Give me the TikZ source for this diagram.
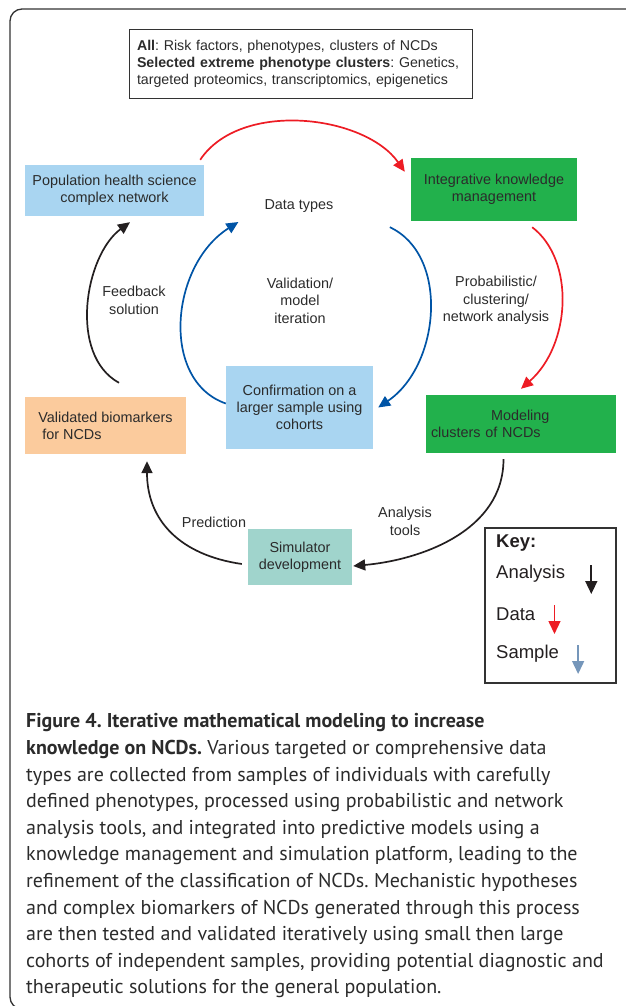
\documentclass[tikz,border=0pt]{standalone}
\usepackage{fontspec}
\setmainfont{Liberation Sans}
\newfontfamily\capfont{PT Sans}
\usetikzlibrary{arrows.meta}
\frenchspacing

\definecolor{ncdred}{HTML}{ED1C24}
\definecolor{ncdblue}{HTML}{0054A6}
\definecolor{ncdblack}{HTML}{231F20}
\definecolor{ncdgreen}{HTML}{22B14C}
\definecolor{ncdsky}{HTML}{A9D5F1}
\definecolor{ncdpeach}{HTML}{FBCB9D}
\definecolor{ncdteal}{HTML}{A0D4CC}
\definecolor{ncdsteel}{HTML}{7596BA}
\definecolor{ncdtext}{HTML}{2B2B2B}
\definecolor{ncdframe}{HTML}{333333}

\tikzset{
  stagebox/.style={inner sep=0pt, text=ncdtext, align=center,
    font=\fontsize{14.4}{16.8}\selectfont},
  lbl/.style={inner sep=0pt, text=ncdtext, align=center,
    font=\fontsize{14.4}{17.5}\selectfont},
  keytext/.style={inner sep=0pt, text=ncdblack, anchor=west,
    font=\fontsize{18.5}{20}\selectfont},
  arc/.style={line width=1.7pt, -{Triangle[length=12pt,width=11pt]}},
  keyarrow/.style={line width=1.6pt, -{Triangle[length=13pt,width=12pt]}},
}

\begin{document}
\begin{tikzpicture}[x=1pt,y=-1pt]
\useasboundingbox (0,0) rectangle (626,1006);
\clip (0,0) rectangle (626,1006);

%Frame
\draw[line width=1.3pt, draw=ncdframe, rounded corners=12pt] (10,9) rectangle (660,1009);

% Text Node
\node[draw=ncdframe, line width=0.9pt, inner xsep=8pt, text width=327pt, minimum height=69pt,
  align=left, text=ncdtext, font=\fontsize{14.2}{17}\selectfont] (allbox) at (300.5,63.5)
  {\textbf{All}: Risk factors, phenotypes, clusters of NCDs\\
   \textbf{Selected extreme phenotype clusters}: Genetics,\\
   targeted proteomics, transcriptomics, epigenetics};

%Stage boxes
\node[stagebox, fill=ncdsky, minimum width=179pt, minimum height=51pt] (pop) at (114.5,190.5)
  {Population health science\\complex network};
\node[stagebox, fill=ncdgreen, minimum width=166pt, minimum height=63pt] (ikm) at (494,189.5)
  {Integrative knowledge\\management};
\node[stagebox, fill=ncdsky, minimum width=147pt, minimum height=83pt] (conf) at (299.5,407.5)
  {Confirmation on a\\larger sample using\\cohorts};
\node[stagebox, fill=ncdpeach, minimum width=161pt, minimum height=57pt, align=left] (valid) at (105.5,425.5)
  {Validated biomarkers\\\hspace*{4pt}for NCDs};
\node[stagebox, fill=ncdgreen, minimum width=190pt, minimum height=58pt, inner xsep=5pt,
  text width=180pt, align=left] (model) at (521,424)
  {\hspace*{60pt}Modeling\\clusters of NCDs};
\node[stagebox, fill=ncdteal, minimum width=104pt, minimum height=56pt] (sim) at (300,557)
  {Simulator\\development};

%Labels
\node[lbl] (datatypes) at (299,206) {Data types};
\node[lbl] (validation) at (300,300.5) {Validation/\\model\\iteration};
\node[lbl] (prob) at (496,300.5) {Probabilistic/\\clustering/\\network analysis};
\node[lbl] (feedback) at (134,300.5) {Feedback\\solution};
\node[lbl] (prediction) at (214,522) {Prediction};
\node[lbl] (tools) at (405,521.5) {Analysis\\tools};

%Curved arrows
\draw[arc, ncdred] ([xshift=-4pt,yshift=5pt]pop.north east)
  .. controls +(40,-60) and +(-40,-57) .. ([xshift=-6pt,yshift=-14pt]ikm.north west);
\draw[arc, ncdred] ([xshift=-45pt,yshift=-6pt]ikm.south east)
  .. controls +(43,33) and +(50,-44) .. ([yshift=6pt]model.north);
\draw[arc, ncdblue] ([xshift=-21pt,yshift=-6pt]ikm.south west)
  .. controls +(60,28) and +(62,-42) .. ([xshift=5pt]conf.east);
\draw[arc, ncdblue] ([yshift=4pt]conf.west)
  .. controls +(-66,-23) and +(-68,43) .. ([xshift=-26pt,yshift=-16pt]datatypes.west);
\draw[arc, ncdblack] ([xshift=13.5pt,yshift=14pt]valid.north)
  .. controls +(-51,-28) and +(-45,33) .. ([xshift=15.5pt,yshift=-6pt]pop.south);
\draw[arc, ncdblack] ([xshift=-17.5pt,yshift=-6pt]model.south)
  .. controls +(0,72) and +(67,-6) .. ([xshift=1pt,yshift=-9pt]sim.east);
\draw[arc, ncdblack] ([xshift=-6pt,yshift=-7pt]sim.west)
  .. controls +(-62,-9) and +(0,59) .. ([xshift=41.5pt,yshift=-7pt]valid.south);

%Key
\node[draw=ncdframe, line width=1.2pt, minimum width=131pt, minimum height=155pt] (key) at (550.5,605.5) {};
\node[keytext] (keyhead) at (496,543) {\textbf{Key:}};
\node[keytext] (keyan) at (496,574) {Analysis};
\node[keytext] (keydata) at (496,614) {Data};
\node[keytext] (keysample) at (496,654) {Sample};
\draw[keyarrow, ncdblack] (keyan.east) ++(26,-9) -- ++(0,29);
\draw[keyarrow, ncdred, line width=1.4pt] (keydata.east) ++(19,-9) -- ++(0,29);
\draw[keyarrow, ncdsteel, line width=1.4pt] (keysample.east) ++(19,-9) -- ++(0,29);

%Caption
\node[anchor=north west, align=left, inner sep=0pt, text=ncdtext,
  font=\capfont\fontsize{20}{26.6}\selectfont] (caption) at (26,713.5)
  {\textbf{Figure 4. Iterative mathematical modeling to increase}\\
   \textbf{knowledge on NCDs.} Various targeted or comprehensive data\\
   types are collected from samples of individuals with carefully\\
   defined phenotypes, processed using probabilistic and network\\
   analysis tools, and integrated into predictive models using a\\
   knowledge management and simulation platform, leading to the\\
   refinement of the classification of NCDs. Mechanistic hypotheses\\
   and complex biomarkers of NCDs generated through this process\\
   are then tested and validated iteratively using small then large\\
   cohorts of independent samples, providing potential diagnostic and\\
   therapeutic solutions for the general population.};

\end{tikzpicture}
\end{document}
